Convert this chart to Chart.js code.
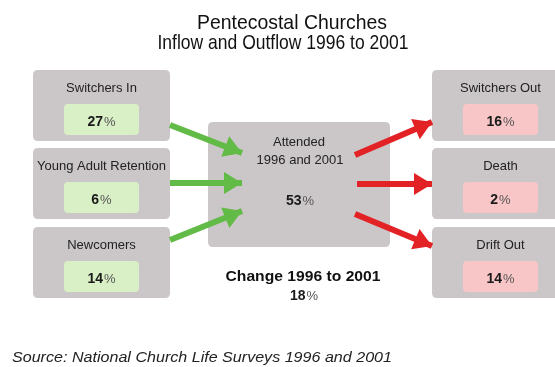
<!DOCTYPE html>
<html>
<head>
<meta charset="utf-8">
<script src="https://cdn.jsdelivr.net/npm/chart.js@4.4.1/dist/chart.umd.min.js"></script>
<style>
  html, body { margin: 0; padding: 0; background: #fff; }
  #wrap { position: relative; width: 555px; height: 367px; }
</style>
</head>
<body>
<div id="wrap"><canvas id="flowChart"></canvas></div>
<script>
// Data
const inflowLabels = ["Switchers In", "Young Adult Retention", "Newcomers"];
const inflowValues = [27, 6, 14];
const outflowLabels = ["Switchers Out", "Death", "Drift Out"];
const outflowValues = [16, 2, 14];
const coreLabel = ["Attended", "1996 and 2001"];
const coreValue = 53;
const changeLabel = "Change 1996 to 2001";
const changeValue = 18;
const titleLines = ["Pentecostal Churches", "Inflow and Outflow 1996 to 2001"];
const sourceText = "Source: National Church Life Surveys 1996 and 2001";

// Layout (in axis units, axes span the canvas 1:1)
const rowTops = [70, 148, 227];
const rowH = 71;
const leftBox = { x0: 33, x1: 170 };
const rightBox = { x0: 432, x1: 569 };
const coreBox = { x0: 208, x1: 390, y0: 122, y1: 247 };

const boxGray = "#cbc7c8";
const greenFill = "#d9efc6";
const pinkFill = "#f8c6c6";
const greenArrow = "#62bb46";
const redArrow = "#e32226";
const font = "Arial, 'Liberation Sans', sans-serif";

// arrow endpoints
const inArrows = [
  [{ x: 170, y: 125 }, { x: 242, y: 153 }],
  [{ x: 170, y: 183 }, { x: 242, y: 183 }],
  [{ x: 170, y: 240 }, { x: 242, y: 211 }]
];
const outArrows = [
  [{ x: 355, y: 155 }, { x: 432, y: 122 }],
  [{ x: 357, y: 184 }, { x: 432, y: 184 }],
  [{ x: 355, y: 214 }, { x: 432, y: 246 }]
];

function roundRect(ctx, x, y, w, h, r) {
  ctx.beginPath();
  ctx.moveTo(x + r, y);
  ctx.lineTo(x + w - r, y);
  ctx.quadraticCurveTo(x + w, y, x + w, y + r);
  ctx.lineTo(x + w, y + h - r);
  ctx.quadraticCurveTo(x + w, y + h, x + w - r, y + h);
  ctx.lineTo(x + r, y + h);
  ctx.quadraticCurveTo(x, y + h, x, y + h - r);
  ctx.lineTo(x, y + r);
  ctx.quadraticCurveTo(x, y, x + r, y);
  ctx.closePath();
}

// text squeezed/stretched to a given width, centred on cx (or from left if left=true)
function fillFit(ctx, text, x, y, width, left) {
  const w = ctx.measureText(text).width;
  const k = width / w;
  ctx.save();
  ctx.translate(x, y);
  ctx.scale(k, 1);
  ctx.textAlign = left ? "left" : "center";
  ctx.fillText(text, 0, 0);
  ctx.restore();
}

function drawPercent(ctx, cx, cy, value, size) {
  const num = String(value);
  ctx.font = "bold " + size + "px " + font;
  const wNum = ctx.measureText(num).width;
  ctx.font = (size - 1) + "px " + font;
  const wPct = ctx.measureText("%").width;
  const start = cx - (wNum + wPct + 1) / 2;
  ctx.textAlign = "left";
  ctx.textBaseline = "middle";
  ctx.fillStyle = "#1a1a1a";
  ctx.font = "bold " + size + "px " + font;
  ctx.fillText(num, start, cy);
  ctx.fillStyle = "#555";
  ctx.font = (size - 1) + "px " + font;
  ctx.fillText("%", start + wNum + 1, cy);
}

const boxesPlugin = {
  id: "boxes",
  beforeDatasetsDraw(chart) {
    const ctx = chart.ctx;
    const xs = chart.scales.x, ys = chart.scales.y;
    const px = v => xs.getPixelForValue(v);
    const py = v => ys.getPixelForValue(v);
    ctx.save();

    function sideBox(b, top, label, value, fill) {
      const x0 = px(b.x0), x1 = px(b.x1), y0 = py(top), y1 = py(top + rowH);
      ctx.fillStyle = boxGray;
      roundRect(ctx, x0, y0, x1 - x0, y1 - y0, 5);
      ctx.fill();
      const cx = (x0 + x1) / 2;
      ctx.fillStyle = "#222";
      ctx.font = "13px " + font;
      ctx.textAlign = "center";
      ctx.textBaseline = "middle";
      ctx.fillText(label, cx, y0 + 18);
      const iw = 75;
      ctx.fillStyle = fill;
      roundRect(ctx, cx - iw / 2, y0 + 34, iw, 31, 4);
      ctx.fill();
      drawPercent(ctx, cx, y0 + 52, value, 14);
    }

    inflowLabels.forEach((l, i) => sideBox(leftBox, rowTops[i], l, inflowValues[i], greenFill));
    outflowLabels.forEach((l, i) => sideBox(rightBox, rowTops[i], l, outflowValues[i], pinkFill));

    // core box
    const cx0 = px(coreBox.x0), cx1 = px(coreBox.x1), cy0 = py(coreBox.y0), cy1 = py(coreBox.y1);
    ctx.fillStyle = boxGray;
    roundRect(ctx, cx0, cy0, cx1 - cx0, cy1 - cy0, 5);
    ctx.fill();
    const ccx = (cx0 + cx1) / 2;
    ctx.fillStyle = "#222";
    ctx.font = "13px " + font;
    ctx.textAlign = "center";
    ctx.textBaseline = "middle";
    ctx.fillText(coreLabel[0], ccx, cy0 + 20);
    ctx.fillText(coreLabel[1], ccx + 1, cy0 + 38);
    drawPercent(ctx, ccx + 1, cy0 + 79, coreValue, 14);

    // change text
    ctx.fillStyle = "#111";
    ctx.font = "bold 15px " + font;
    fillFit(ctx, changeLabel, ccx + 4, py(277), 155);
    drawPercent(ctx, ccx + 5, py(296), changeValue, 14);

    // titles
    ctx.fillStyle = "#111";
    ctx.textBaseline = "middle";
    ctx.font = "21px " + font;
    fillFit(ctx, titleLines[0], px(292), py(23), 190);
    fillFit(ctx, titleLines[1], px(283), py(43), 251);

    // source
    ctx.font = "italic 14px " + font;
    ctx.fillStyle = "#222";
    fillFit(ctx, sourceText, px(12), py(358), 380, true);
    ctx.restore();
  },
  afterDatasetsDraw(chart) {
    // arrowheads at the last point of each line dataset
    const ctx = chart.ctx;
    ctx.save();
    chart.data.datasets.forEach((ds, i) => {
      const pts = chart.getDatasetMeta(i).data;
      if (pts.length < 2) return;
      const a = pts[0], b = pts[pts.length - 1];
      const ang = Math.atan2(b.y - a.y, b.x - a.x);
      const len = 18, half = 11;
      ctx.fillStyle = ds.borderColor;
      ctx.beginPath();
      ctx.moveTo(b.x, b.y);
      ctx.lineTo(b.x - len * Math.cos(ang) + half * Math.sin(ang), b.y - len * Math.sin(ang) - half * Math.cos(ang));
      ctx.lineTo(b.x - len * Math.cos(ang) - half * Math.sin(ang), b.y - len * Math.sin(ang) + half * Math.cos(ang));
      ctx.closePath();
      ctx.fill();
    });
    ctx.restore();
  }
};

const datasets = [];
inArrows.forEach(p => datasets.push({
  data: p, borderColor: greenArrow, borderWidth: 6, pointRadius: 0, showLine: true, borderCapStyle: "butt"
}));
outArrows.forEach(p => datasets.push({
  data: p, borderColor: redArrow, borderWidth: 6, pointRadius: 0, showLine: true, borderCapStyle: "butt"
}));

new Chart(document.getElementById("flowChart"), {
  type: "scatter",
  data: { datasets },
  options: {
    responsive: true,
    maintainAspectRatio: false,
    animation: false,
    layout: { padding: 0 },
    plugins: { legend: { display: false }, tooltip: { enabled: false } },
    events: [],
    scales: {
      x: { type: "linear", min: 0, max: 555, display: false },
      y: { type: "linear", min: 0, max: 367, reverse: true, display: false }
    }
  },
  plugins: [boxesPlugin]
});
</script>
</body>
</html>
